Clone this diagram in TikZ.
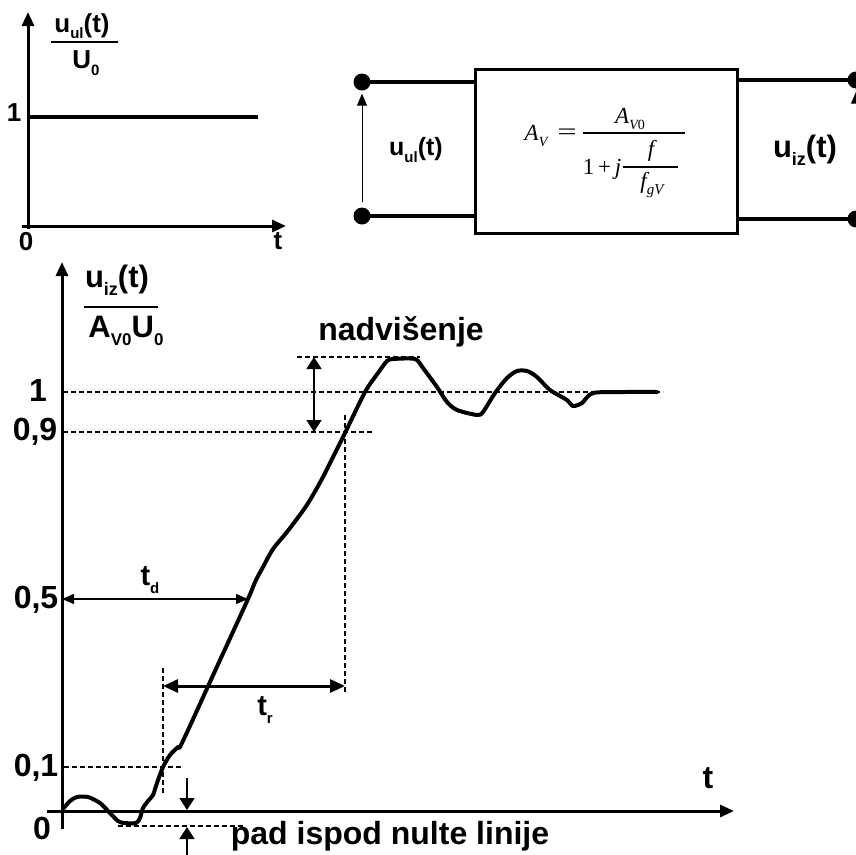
\documentclass[tikz,border=0pt]{standalone}
\usepackage{graphicx}
\usepackage{fontspec}
\setmainfont{Liberation Sans}
\newfontfamily\tms{Liberation Serif}
\usetikzlibrary{arrows.meta}
\newcommand\lsub[2]{\raisebox{-0.25em}{\fontsize{#1}{#1}\selectfont #2}}
\begin{document}
\begin{tikzpicture}[x=1pt,y=-1pt,
  lbl/.style={inner sep=0pt, font=\fontsize{32}{32}\selectfont\bfseries},
  lblm/.style={inner sep=0pt, font=\fontsize{31}{31}\selectfont\bfseries},
  lbls/.style={inner sep=0pt, font=\fontsize{26}{26}\selectfont\bfseries},
  fml/.style={inner sep=0pt, font=\fontsize{23}{23}\selectfont\tms\itshape},
  fmlu/.style={inner sep=0pt, font=\fontsize{23}{23}\selectfont\tms\upshape},
  axisln/.style={line width=3pt, -{Triangle[length=14pt,width=12pt]}},
  dashln/.style={line width=2.2pt, dash pattern=on 5pt off 3pt},
  wave/.style={line width=4pt, line join=round, line cap=round},
  wire/.style={line width=3.5pt},
  dot/.style={circle, fill, inner sep=0pt, minimum size=17pt},
  fracbar/.style={line width=2.5pt},
  mbar/.style={line width=1.1pt},
  thinarr/.style={line width=1.2pt, {Triangle[length=12pt,width=10pt]}-{Triangle[length=12pt,width=10pt]}},
  thickarr/.style={line width=3pt, {Triangle[length=15pt,width=13pt]}-{Triangle[length=15pt,width=13pt]}},
  ovarr/.style={line width=1.6pt, {Triangle[length=12pt,width=15pt]}-{Triangle[length=12pt,width=15pt]}},
  onearr/.style={line width=1.6pt, -{Triangle[length=12pt,width=15pt]}},
  varr/.style={line width=1pt, -{Triangle[length=12pt,width=10pt]}}
]
\useasboundingbox (0,0) rectangle (855,855);

% ---------- top-left graph ----------
\coordinate (ty0) at (28,229);
\coordinate (ty1) at (28,12);
\coordinate (tx0) at (22,226);
\coordinate (tx1) at (286,226);
\coordinate (lv0) at (28,117);
\coordinate (lv1) at (258,117);
\draw[axisln] (ty0) -- (ty1);
\draw[axisln] (tx0) -- (tx1);
\draw[line width=4pt] (lv0) -- (lv1);
\node[lbls] (tone) at (14,113) {1};
\node[lbls] (tzero) at (26,242) {0};
\node[lbls] (tt) at (278,241) {t};
\node[inner sep=0pt, font=\fontsize{26}{26}\selectfont\bfseries] (tnum) at (82,26) {u\lsub{15}{ul}(t)};
\node[inner sep=0pt, font=\fontsize{26}{26}\selectfont\bfseries] (tden) at (86,63) {U\lsub{15}{0}};
\coordinate (tb0) at (51,42);
\coordinate (tb1) at (118,42);
\draw[fracbar] (tb0) -- (tb1);

% ---------- circuit ----------
\node[draw, line width=3pt, minimum width=262pt, minimum height=164pt, inner sep=0pt] (box) at (606,151) {};
% formula A_V = A_V0 / (1 + j f / f_gV)
\node[fml] (fav) at (536,136) {A\lsub{14}{V}};
\node[fmlu] (feq) at (567,134) {\scalebox{1.5}[1]{=}};
\coordinate (fb0) at (583,133);
\coordinate (fb1) at (685,133);
\draw[mbar] (fb0) -- (fb1);
\node[fml] (fnum) at (630,119) {A\lsub{14}{V\upshape 0}};
\node[fmlu] (fone) at (597,167) {1\,+};
\node[fml] (fj) at (618,169) {j};
\coordinate (fi0) at (623,167);
\coordinate (fi1) at (678,167);
\draw[mbar] (fi0) -- (fi1);
\node[fml] (ff) at (651,151) {f};
\node[fml] (ffg) at (652,185) {f\lsub{15}{gV}};
\node[dot] (d1) at (362,82) {};
\node[dot] (d2) at (362,216) {};
\node[dot] (d3) at (856,80) {};
\node[dot] (d4) at (856,219) {};
\draw[wire] (d1.center) -- (d1.center -| box.west);
\draw[wire] (d2.center) -- (d2.center -| box.west);
\draw[wire] (box.east |- d3.center) -- (d3.center);
\draw[wire] (box.east |- d4.center) -- (d4.center);
\draw[varr, shorten <=5pt, shorten >=3pt] (d2) -- (d1);
\draw[varr, shorten <=5pt, shorten >=3pt] (d4) -- (d3);
\node[inner sep=0pt, font=\fontsize{25}{25}\selectfont\bfseries] (uul) at (416,150) {u\lsub{15}{ul}(t)};
\node[inner sep=0pt, font=\fontsize{31}{31}\selectfont\bfseries] (uiz) at (805,150) {u\lsub{18}{iz}(t)};

% ---------- bottom graph ----------
\coordinate (by0) at (62,829);
\coordinate (by1) at (62,262);
\coordinate (bx0) at (47,811);
\coordinate (bx1) at (734,811);
\draw[axisln] (by0) -- (by1);
\draw[axisln] (bx0) -- (bx1);
\node[lblm] (bnum) at (117,280) {u\lsub{18}{iz}(t)};
\node[lblm] (bden) at (126,331) {A\lsub{17}{V0}U\lsub{17}{0}};
\coordinate (bb0) at (84,307);
\coordinate (bb1) at (158,307);
\draw[fracbar] (bb0) -- (bb1);

% dashed guide lines
\coordinate (g1a) at (63,392);  \coordinate (g1b) at (663,392);
\coordinate (g9a) at (63,432);  \coordinate (g9b) at (372,432);
\coordinate (g01a) at (64,767); \coordinate (g01b) at (183,767);
\coordinate (gta) at (297,357); \coordinate (gtb) at (420,357);
\coordinate (gba) at (118,826); \coordinate (gbb) at (243,826);
\coordinate (v1a) at (163,668); \coordinate (v1b) at (163,793);
\coordinate (v9a) at (345,415); \coordinate (v9b) at (345,693);
\draw[dashln] (g1a) -- (g1b);
\draw[dashln] (g9a) -- (g9b);
\draw[dashln] (g01a) -- (g01b);
\draw[dashln] (gta) -- (gtb);
\draw[dashln] (gba) -- (gbb);
\draw[dashln] (v1a) -- (v1b);
\draw[dashln] (v9a) -- (v9b);

% waveform
\draw[wave] plot[smooth, tension=0.45] coordinates {
 (63,809) (70,801) (77,797) (88,797) (100,803) (110,813) (118,821) (124,823)
 (136,823) (140,818) (143,808) (148,801) (153,795) (157,783) (163,767)
 (170,755) (178,747) (182,743) (215,671) (248,599) (255,582) (263,567)
 (273,549) (287,532) (302,512) (310,500) (323,477) (345,433) (365,392)
 (378,373) (387,361) (393,359) (415,359) (423,368) (437,387) (447,402)
 (457,410) (477,415) (483,412) (495,393) (507,378) (517,371) (527,371)
 (537,377) (550,390) (567,400) (573,406) (582,403) (593,393) (625,392) (657,392)};

% time markers
\coordinate (tda) at (62,599);  \coordinate (tdb) at (248,599);
\coordinate (tra) at (163,686); \coordinate (trb) at (345,686);
\coordinate (ova) at (314,357); \coordinate (ovb) at (314,432);
\coordinate (ua0) at (187,778); \coordinate (ua1) at (187,810);
\coordinate (ub0) at (187,856); \coordinate (ub1) at (187,827);
\draw[thinarr] (tda) -- (tdb);
\draw[thickarr] (tra) -- (trb);
\draw[ovarr] (ova) -- (ovb);
\draw[onearr] (ua0) -- (ua1);
\draw[onearr] (ub0) -- (ub1);

% labels
\node[lbl] (l1) at (38,390) {1};
\node[lbl] (l09) at (35,432) {0,9};
\node[lbl] (l05) at (36,600) {0,5};
\node[lbl] (l01) at (36,768) {0,1};
\node[lbl] (l0) at (42,828) {0};
\node[lbl] (lt) at (708,778) {t};
\node[inner sep=0pt, font=\fontsize{29}{29}\selectfont\bfseries] (ltd) at (150,580) {t\lsub{15}{d}};
\node[inner sep=0pt, font=\fontsize{29}{29}\selectfont\bfseries] (ltr) at (265,710) {t\lsub{15}{r}};
\node[lbl] (lnad) at (401,332) {nadvišenje};
\node[lbl] (lpad) at (390,836) {pad ispod nulte linije};
\end{tikzpicture}
\end{document}
